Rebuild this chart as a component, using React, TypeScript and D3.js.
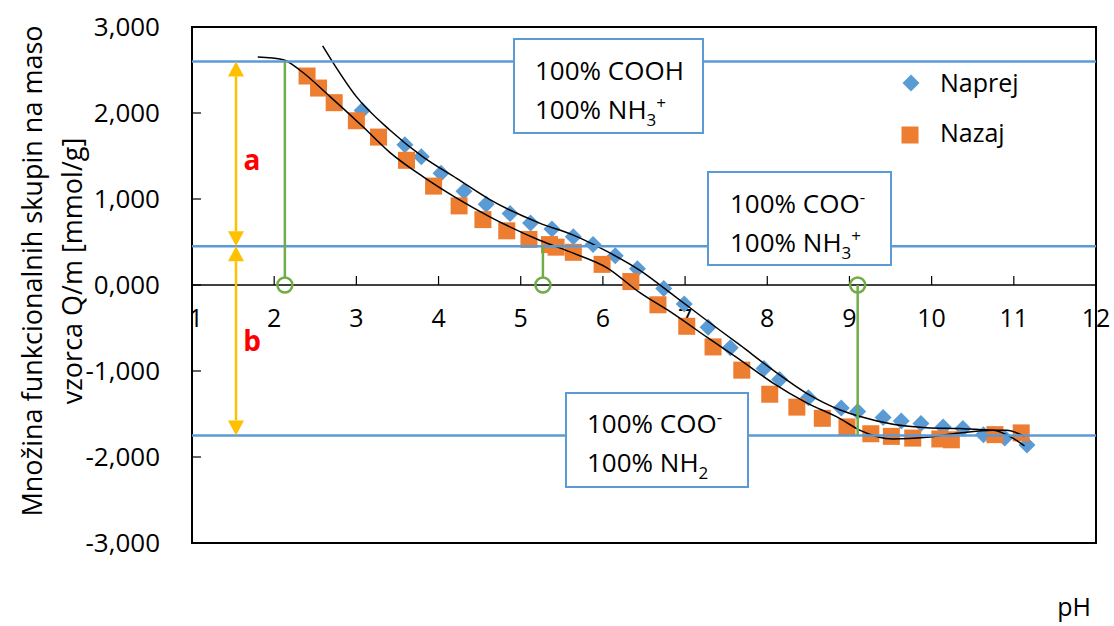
import React from "react";
import * as d3 from "d3";

const W = 1114;
const H = 626;

// axis ticks
const phTicks = [1, 2, 3, 4, 5, 6, 7, 8, 9, 10, 11, 12];
const qTicks = [3, 2, 1, 0, -1, -2, -3];

// Series "Naprej" (diamonds)
const naprejPH = [3.07, 3.59, 3.79, 4.03, 4.31, 4.58, 4.87, 5.12, 5.38, 5.64, 5.88, 6.15, 6.42, 6.74, 6.99, 7.28, 7.55, 7.96, 8.15, 8.5, 8.9, 9.1, 9.41, 9.63, 9.87, 10.14, 10.38, 10.63, 10.89, 11.16];
const naprejQ = [2.03, 1.63, 1.49, 1.3, 1.09, 0.94, 0.83, 0.72, 0.65, 0.56, 0.47, 0.34, 0.19, -0.04, -0.22, -0.49, -0.73, -0.97, -1.1, -1.31, -1.43, -1.47, -1.54, -1.58, -1.61, -1.65, -1.67, -1.74, -1.78, -1.86];

// Series "Nazaj" (squares)
const nazajPH = [2.4, 2.54, 2.73, 3.0, 3.27, 3.61, 3.94, 4.25, 4.54, 4.83, 5.1, 5.35, 5.43, 5.64, 5.99, 6.34, 6.67, 7.02, 7.34, 7.69, 8.03, 8.36, 8.67, 8.97, 9.26, 9.51, 9.77, 10.1, 10.24, 10.77, 11.09];
const nazajQ = [2.43, 2.29, 2.12, 1.91, 1.72, 1.45, 1.15, 0.92, 0.76, 0.63, 0.53, 0.47, 0.44, 0.38, 0.24, 0.04, -0.23, -0.48, -0.72, -0.99, -1.27, -1.42, -1.55, -1.65, -1.73, -1.76, -1.78, -1.79, -1.8, -1.74, -1.72];

// Trend line through "Naprej"
const fitNaprejPH = [2.59, 2.72, 3.0, 3.41, 3.81, 4.22, 4.63, 5.23, 5.64, 6.05, 6.45, 6.86, 7.26, 7.67, 8.07, 8.48, 8.88, 9.13, 9.53, 9.94, 10.34, 10.75, 10.95, 11.13];
const fitNaprejQ = [2.78, 2.58, 2.19, 1.8, 1.49, 1.24, 0.99, 0.72, 0.58, 0.39, 0.17, -0.12, -0.41, -0.7, -0.99, -1.26, -1.45, -1.53, -1.62, -1.66, -1.67, -1.69, -1.76, -1.87];

// Trend line through "Nazaj"
const fitNazajPH = [1.8, 2.11, 2.31, 2.68, 3.08, 3.41, 3.81, 4.22, 4.63, 5.23, 5.64, 6.05, 6.45, 6.85, 7.27, 7.67, 8.07, 8.48, 8.88, 9.13, 9.53, 9.94, 10.34, 10.75, 10.91, 11.13];
const fitNazajQ = [2.65, 2.62, 2.5, 2.19, 1.84, 1.54, 1.26, 1.01, 0.79, 0.52, 0.37, 0.2, -0.09, -0.33, -0.61, -0.87, -1.14, -1.37, -1.55, -1.69, -1.79, -1.77, -1.72, -1.69, -1.69, -1.76];

// Reference levels and markers
const levelQ = [2.6, 0.45, -1.75];
const markPH = [2.13, 5.27, 9.1];

const BLUE = "#5B9BD5";
const ORANGE = "#ED7D31";
const GREEN = "#70AD47";
const YELLOW = "#FFC000";
const FONT = "'Open Sans', 'Noto Sans', sans-serif";

const loc = d3.formatLocale({ decimal: ",", thousands: ".", grouping: [3], currency: ["", ""], minus: "-" });
const fmt = loc.format(".3f");

export default function App() {
  const x = d3.scaleLinear().domain([1, 12]).range([192, 1096]);
  const y = d3.scaleLinear().domain([-3, 3]).range([543, 27]);

  const line = d3
    .line<[number, number]>()
    .x((d) => x(d[0]))
    .y((d) => y(d[1]))
    .curve(d3.curveMonotoneX);

  const fitA = line(fitNaprejPH.map((p, i) => [p, fitNaprejQ[i]]));
  const fitB = line(fitNazajPH.map((p, i) => [p, fitNazajQ[i]]));

  const dia = 8.5;
  const sq = 17;
  const ax = 236;

  const arrow = (y1: number, y2: number) => {
    const hl = 15, hw = 8;
    const dir = y2 > y1 ? 1 : -1;
    return (
      <g>
        <line x1={ax} x2={ax} y1={y1 + dir * hl} y2={y2 - dir * hl} stroke={YELLOW} strokeWidth={2.5} />
        <path d={`M${ax},${y1} L${ax - hw},${y1 + dir * hl} L${ax + hw},${y1 + dir * hl} Z`} fill={YELLOW} />
        <path d={`M${ax},${y2} L${ax - hw},${y2 - dir * hl} L${ax + hw},${y2 - dir * hl} Z`} fill={YELLOW} />
      </g>
    );
  };

  const boxText = { fontFamily: FONT, fontSize: 26, fill: "#000" } as const;

  return (
    <svg width={W} height={H} style={{ position: "absolute", left: 0, top: 0, background: "#fff" }}>
      <rect x={0} y={0} width={W} height={H} fill="#fff" />
      {/* frame */}
      <rect x={x(1)} y={y(3)} width={x(12) - x(1)} height={y(-3) - y(3)} fill="none" stroke="#000" strokeWidth={2} />
      {/* x axis at 0 */}
      <line x1={x(1)} x2={x(12)} y1={y(0)} y2={y(0)} stroke="#000" strokeWidth={1.5} />
      {phTicks.slice(1, -1).map((t) => (
        <line key={"xt" + t} x1={x(t)} x2={x(t)} y1={y(0)} y2={y(0) - 9} stroke="#000" strokeWidth={1.2} />
      ))}
      {qTicks.slice(1, -1).map((t) => (
        <line key={"yt" + t} x1={x(1)} x2={x(1) + 9} y1={y(t)} y2={y(t)} stroke="#000" strokeWidth={1.2} />
      ))}
      {phTicks.map((t) => (
        <text key={"xl" + t} x={x(t) + (t === 1 ? 4 : 0)} y={y(0) + 42} textAnchor="middle" fontFamily={FONT} fontSize={25}>
          {t}
        </text>
      ))}
      {qTicks.map((t) => (
        <text key={"yl" + t} x={160} y={y(t)} dy="0.35em" textAnchor="end" fontFamily={FONT} fontSize={26}>
          {fmt(t)}
        </text>
      ))}
      {/* y title */}
      <text transform="translate(42,271) rotate(-90)" textAnchor="middle" fontFamily={FONT} fontSize={27}>
        Množina funkcionalnih skupin na maso
      </text>
      <text transform="translate(82,271) rotate(-90)" textAnchor="middle" fontFamily={FONT} fontSize={27}>
        vzorca Q/m [mmol/g]
      </text>
      <text x={1074} y={616} textAnchor="middle" fontFamily={FONT} fontSize={25}>
        pH
      </text>

      {/* markers */}
      {naprejPH.map((p, i) => {
        const cx = x(p), cy = y(naprejQ[i]);
        return <path key={"d" + i} d={`M${cx},${cy - dia} L${cx + dia},${cy} L${cx},${cy + dia} L${cx - dia},${cy} Z`} fill={BLUE} />;
      })}
      {nazajPH.map((p, i) => (
        <rect key={"s" + i} x={x(p) - sq / 2} y={y(nazajQ[i]) - sq / 2} width={sq} height={sq} fill={ORANGE} />
      ))}

      {/* trend lines */}
      <path d={fitA || ""} fill="none" stroke="#000" strokeWidth={1.5} />
      <path d={fitB || ""} fill="none" stroke="#000" strokeWidth={1.5} />

      {/* horizontal level lines */}
      {levelQ.map((q, i) => (
        <line key={"lv" + i} x1={x(1)} x2={x(12)} y1={y(q)} y2={y(q)} stroke={BLUE} strokeWidth={2.5} />
      ))}

      {/* yellow arrows */}
      {arrow(y(levelQ[0]), y(levelQ[1]))}
      {arrow(y(levelQ[1]), y(levelQ[2]))}
      <text x={252} y={y(1.45)} dy="0.35em" textAnchor="middle" fontFamily={FONT} fontWeight="bold" fontSize={28} fill="#FF0000">
        a
      </text>
      <text x={252} y={y(-0.65)} dy="0.35em" textAnchor="middle" fontFamily={FONT} fontWeight="bold" fontSize={28} fill="#FF0000">
        b
      </text>

      {/* green markers */}
      {markPH.map((p, i) => (
        <g key={"g" + i}>
          <line x1={x(p)} x2={x(p)} y1={y(levelQ[i])} y2={i === 2 ? y(0) : y(0) - 7} stroke={GREEN} strokeWidth={2.5} />
          <circle cx={x(p)} cy={y(0)} r={7.5} fill="none" stroke={GREEN} strokeWidth={2.5} />
        </g>
      ))}

      {/* text boxes */}
      <rect x={514} y={39} width={189} height={94} fill="#fff" stroke={BLUE} strokeWidth={2} />
      <text x={535} y={80} {...boxText}>100% COOH</text>
      <text x={535} y={119} {...boxText}>
        100% NH<tspan fontSize={17} dy={7}>3</tspan>
        <tspan fontSize={17} dy={-17}>+</tspan>
      </text>

      <rect x={708} y={172} width={183} height={93} fill="#fff" stroke={BLUE} strokeWidth={2} />
      <text x={730} y={213} {...boxText}>
        100% COO<tspan fontSize={17} dy={-10}>-</tspan>
      </text>
      <text x={730} y={252} {...boxText}>
        100% NH<tspan fontSize={17} dy={7}>3</tspan>
        <tspan fontSize={17} dy={-17}>+</tspan>
      </text>

      <rect x={566} y={393} width={182} height={94} fill="#fff" stroke={BLUE} strokeWidth={2} />
      <text x={587} y={433} {...boxText}>
        100% COO<tspan fontSize={17} dy={-10}>-</tspan>
      </text>
      <text x={587} y={472} {...boxText}>
        100% NH<tspan fontSize={17} dy={7}>2</tspan>
      </text>

      {/* legend */}
      <path d={`M911,${83 - dia} L${911 + dia},83 L911,${83 + dia} L${911 - dia},83 Z`} fill={BLUE} />
      <text x={940} y={83} dy="0.35em" fontFamily={FONT} fontSize={25}>Naprej</text>
      <rect x={910 - sq / 2} y={135 - sq / 2} width={sq} height={sq} fill={ORANGE} />
      <text x={940} y={133} dy="0.35em" fontFamily={FONT} fontSize={25}>Nazaj</text>
    </svg>
  );
}
